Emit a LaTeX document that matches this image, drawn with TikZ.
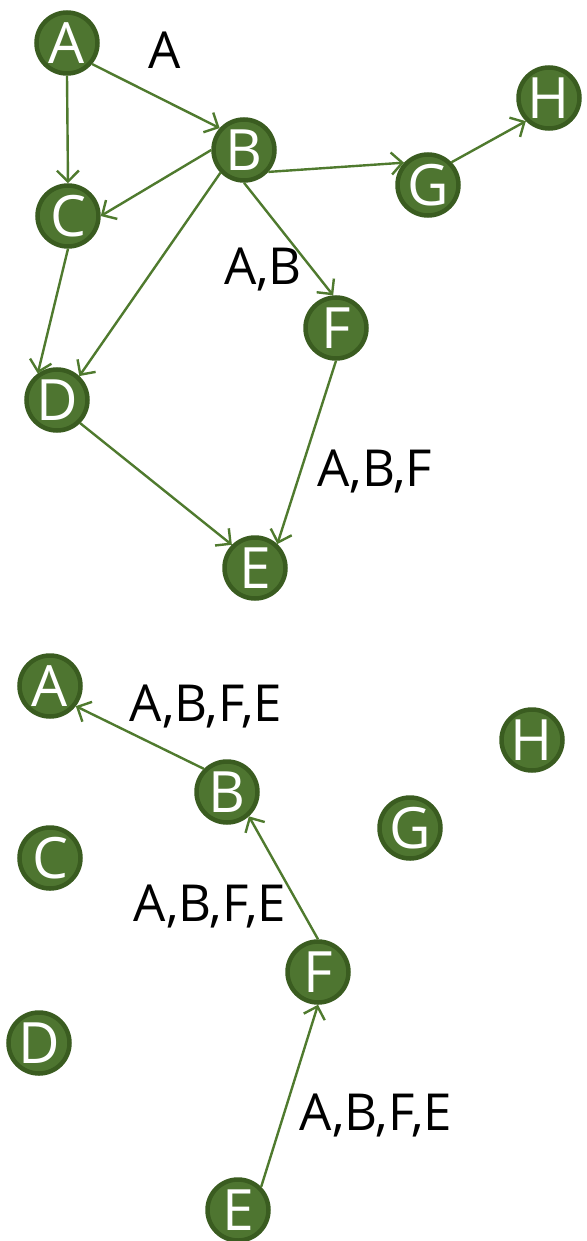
\documentclass[tikz,border=0pt]{standalone}
\usepackage{fontspec}
\setmainfont{Open Sans}
\usetikzlibrary{arrows.meta}
\definecolor{nodegreen}{HTML}{4E7530}
\definecolor{ringgreen}{HTML}{3A5C20}
\definecolor{edgegreen}{HTML}{4F7A2E}
\tikzset{
  vertex/.style={circle, fill=nodegreen, draw=ringgreen, line width=4.5pt,
    minimum size=61pt, inner sep=0pt, text=white, font=\fontsize{57}{57}\selectfont},
  edge/.style={draw=edgegreen, line width=2.4pt,
    -{Straight Barb[length=11pt,width=22pt,line width=2.4pt]}},
  tag/.style={font=\fontsize{51}{51}\selectfont}
}
\begin{document}
\begin{tikzpicture}[x=1pt, y=-1pt]
    \useasboundingbox (0, 0) rectangle (586, 1241);
    % upper graph
    \node [vertex] (a1) at (67, 43) {A};
    \node [vertex] (b1) at (244, 150) {B};
    \node [vertex] (c1) at (68, 216) {C};
    \node [vertex] (d1) at (57, 400) {D};
    \node [vertex] (e1) at (255, 568) {E};
    \node [vertex] (f1) at (336, 328) {F};
    \node [vertex] (g1) at (428, 185) {G};
    \node [vertex] (h1) at (549, 98) {H};
    %
    \draw [edge] (a1.-40) -- (b1.138);
    \draw [edge] (a1.south) -- (c1.north);
    \draw [edge] (b1.west) -- (c1.east);
    \draw [edge] (b1.-136) -- (d1.47);
    \draw [edge] (b1.-42) -- (g1.137);
    \draw [edge] (b1.south) -- (f1.95);
    \draw [edge] (c1.south) -- (d1.126);
    \draw [edge] (d1.-45) -- (e1.135);
    \draw [edge] (f1.south) -- (e1.47);
    \draw [edge] (g1.44) -- (h1.-135);
    %
    \node [tag] (t1) at (165, 50) {A};
    \node [tag] (t2) at (263, 270) {A,B};
    \node [tag] (t3) at (375, 472) {A,B,F};
    % lower graph
    \node [vertex] (a2) at (50, 686) {A};
    \node [vertex] (b2) at (227, 792) {B};
    \node [vertex] (c2) at (50, 858) {C};
    \node [vertex] (d2) at (39, 1043) {D};
    \node [vertex] (e2) at (238, 1210) {E};
    \node [vertex] (f2) at (318, 972) {F};
    \node [vertex] (g2) at (410, 828) {G};
    \node [vertex] (h2) at (532, 740) {H};
    %
    \draw [edge] (b2.135) -- (a2.-38);
    \draw [edge] (f2.north) -- (b2.-48);
    \draw [edge] (e2.45) -- (f2.south);
    %
    \node [tag] (t4) at (206, 707) {A,B,F,E};
    \node [tag] (t5) at (210, 906) {A,B,F,E};
    \node [tag] (t6) at (376, 1115) {A,B,F,E};
  \end{tikzpicture}
\end{document}
